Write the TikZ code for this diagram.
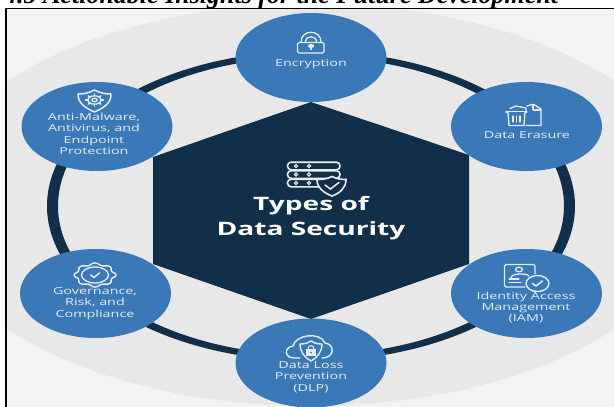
\documentclass[tikz,border=0pt]{standalone}
\usepackage{fontspec}
\setmainfont{Liberation Serif}
\newfontfamily\lab{Open Sans}
\usetikzlibrary{shapes.geometric}
\definecolor{blu}{HTML}{3A78B8}
\definecolor{nav}{HTML}{122F49}
\definecolor{bgo}{HTML}{F3F3F3}
\definecolor{bgi}{HTML}{E8E8E8}
\definecolor{wht}{HTML}{E6EEF6}
\tikzset{
 x=1pt,y=-1pt,
 petal/.style={ellipse,fill=blu,minimum width=151pt,minimum height=89pt,inner sep=0pt,draw=none},
 lbl/.style={font=\lab\fontsize{9.7}{11.4}\selectfont,text=wht,align=center,inner sep=0pt,transform shape,xscale=1.48},
 ttl/.style={font=\lab\bfseries\fontsize{18.5}{25}\selectfont,text=white,align=center,inner sep=0pt,transform shape,xscale=1.52},
 ico/.style={draw=wht,line width=1.3pt,line join=round,line cap=round},
}
\begin{document}
\begin{tikzpicture}
\useasboundingbox (0,0) rectangle (614,407);
\begin{scope}
\clip (0,0) rectangle (614,407);
\fill[white] (0,0) rectangle (614,407);
% title (cut by the top of the page)
\node[font=\bfseries\itshape\fontsize{26}{28}\selectfont,anchor=base west,inner sep=0pt,text=black,transform shape,xscale=1.0] (title) at (4,3) {4.5 Actionable Insights for the Future Development};
% image panel
\fill[bgo] (7,9) rectangle (614,407);
\begin{scope}
\clip (7,9) rectangle (614,407);
\fill[bgi] (311,205) ellipse [x radius=385,y radius=201];
\end{scope}
\fill[black] (5,7.5) rectangle (614,9);
\fill[black] (5,7.5) rectangle (7,407);
% ring
\fill[nav,even odd rule] (311,206) ellipse [x radius=264,y radius=155] (311,206) ellipse [x radius=253,y radius=149];
% hexagon
\fill[nav] (311,102) -- (469,155) -- (469,264) -- (311,319) -- (153,264) -- (153,157) -- cycle;
% petals
\node[petal] (enc) at (311,57.5) {};
\node[petal] (anti) at (97,126.5) {};
\node[petal] (era) at (526.5,126.5) {};
\node[petal] (gov) at (95.5,293.5) {};
\node[petal] (iam) at (526.5,293.5) {};
\node[petal] (dlp) at (311,363) {};
% labels
\node[lbl] (tenc) at (311,64) {Encryption};
\node[lbl] (tanti) at (94,134) {Anti-Malware,\\Antivirus, and\\Endpoint\\Protection};
\node[lbl] (tera) at (527,135) {Data Erasure};
\node[lbl] (tgov) at (95,303.5) {Governance,\\Risk, and\\Compliance};
\node[lbl] (tiam) at (526,307.5) {Identity Access\\Management\\(IAM)};
\node[lbl] (tdlp) at (311,377) {Data Loss\\Prevention\\(DLP)};
\node[ttl] (tmain) at (311,218.5) {Types of\\Data Security};
% --- icons ---
% lock
\draw[ico,rounded corners=1.5pt] (297.5,42.5) rectangle (324,53);
\draw[ico] (301,42) .. controls (301,29) and (321,29) .. (321,42);
\draw[ico] (305.5,42) .. controls (305.5,35) and (316.5,35) .. (316.5,42);
\fill[wht] (311,46) ellipse [x radius=3.2,y radius=2];
\fill[wht] (309.8,46) rectangle (312.2,50);
% anti-malware shield
\draw[ico,line width=1.5pt] (94.5,90) .. controls (101,93.5) and (106,94) .. (111,94) .. controls (111,102) and (106,107) .. (94.5,112) .. controls (83,107) and (78,102) .. (78,94) .. controls (83,94) and (88,93.5) .. (94.5,90) -- cycle;
\draw[ico] (94.5,100) ellipse [x radius=6.5,y radius=4.2];
\draw[ico] (94.5,100) ellipse [x radius=2.6,y radius=1.7];
\foreach \a in {0,45,...,315}{\draw[ico] ({94.5+6.5*cos(\a)},{100+4.2*sin(\a)}) -- ({94.5+9*cos(\a)},{100+6*sin(\a)});}
% data erasure
\draw[ico] (527,106) -- (532,104.5) -- (534,104.5) -- (541,109) -- (541,125.5) -- (526,125.5);
\draw[ico] (533,104.5) -- (533,110) -- (541,110);
\draw[ico] (506,112) -- (527,112);
\draw[ico] (510,108.5) -- (516,106) -- (526,108) -- (526,112);
\draw[ico,fill=blu] (508,112) -- (509,125.5) -- (524,125.5) -- (525,112);
\draw[ico] (513,116) -- (513,122) (516.5,116) -- (516.5,122) (520,116) -- (520,122);
% governance gear
\draw[ico,line width=1.4pt] plot[smooth cycle,samples=48,domain=0:352.5] ({95+(19.5+1.6*cos(8*\x))*cos(\x)},{275+(11+1.1*cos(8*\x))*sin(\x)});
\draw[ico] (95,275) ellipse [x radius=13.5,y radius=8];
\draw[ico,line width=1.5pt] (90.5,275) -- (94,277.5) -- (99.5,273);
% IAM
\draw[ico,line width=1.4pt,rounded corners=1.5pt] (525,287) -- (504.5,287) -- (504.5,264.5) -- (535,264.5) -- (535,274);
\draw[ico] (519,269.5) ellipse [x radius=3.5,y radius=2.3];
\draw[ico] (511,278) .. controls (511,273) and (527,273) .. (529,276);
\draw[ico] (509,279) -- (519,279) (509,282.5) -- (521,282.5);
\draw[ico,line width=1.4pt] (537.5,283.5) ellipse [x radius=11.5,y radius=8];
\draw[ico,line width=1.5pt] (532.5,283.5) -- (536,286) -- (542.5,281);
% DLP
\draw[ico,line width=1.4pt] (300,358) -- (294,358) .. controls (284,358) and (284,347) .. (293,346) .. controls (295,335) and (320,331) .. (325,343) .. controls (335,344) and (335,358) .. (322,358);
\draw[ico,fill=blu,line width=1.4pt] (311,341) .. controls (315,343.5) and (318,344) .. (322,344) .. controls (322,352) and (317,358) .. (311,361) .. controls (305,358) and (300,352) .. (300,344) .. controls (304,344) and (307,343.5) .. (311,341) -- cycle;
\fill[wht] (306,349) rectangle (316,356);
\draw[wht,line width=1pt] (308,349) .. controls (308,344.5) and (314,344.5) .. (314,349);
\fill[blu] (311,352.5) circle (1);
% centre icon
\foreach \y in {166,174.5,183}{
 \draw[draw=wht,line width=1.6pt,rounded corners=3.6pt] (287.5,\y-3.8) rectangle (340,\y+3.8);
 \draw[wht,line width=1pt] (296,\y) circle (1.6) (309,\y) circle (1.6);
}
\draw[draw=wht,fill=nav,line width=1.6pt] (332,176.5) .. controls (337,179) and (341,179.5) .. (346,179.5) .. controls (346,188) and (340,193) .. (332,196) .. controls (324,193) and (317,188) .. (317,179.5) .. controls (322,179.5) and (327,179) .. (332,176.5) -- cycle;
\draw[wht,line width=1.5pt,line cap=round] (325,185) -- (330.5,189) -- (339,182.5);
\end{scope}
\end{tikzpicture}
\end{document}
